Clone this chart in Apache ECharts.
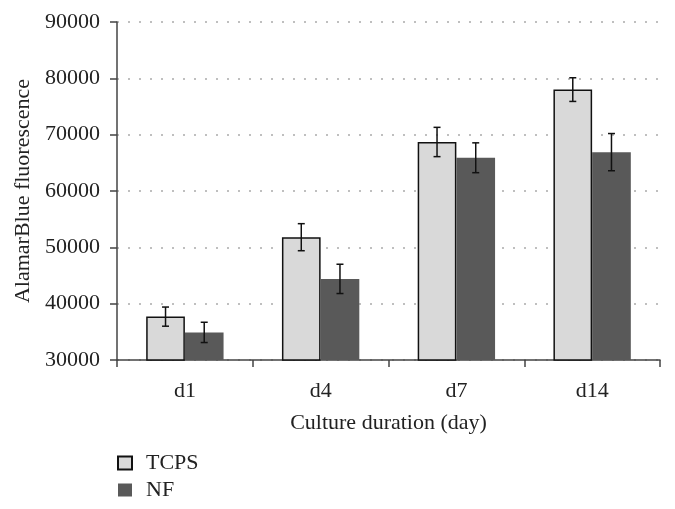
<!DOCTYPE html>
<html><head><meta charset="utf-8">
<script src="https://cdn.jsdelivr.net/npm/echarts@6/dist/echarts.min.js"></script>
<style>html,body{margin:0;padding:0;background:#fff}#c{width:675px;height:509px}</style>
</head><body><div id="c"></div>
<script>
var categories = ['d1', 'd4', 'd7', 'd14'];
var tcps = [37700, 51800, 68700, 78000];
var tcpsErr = [1700, 2400, 2600, 2100];
var nf = [34900, 44400, 65900, 66900];
var nfErr = [1800, 2600, 2650, 3300];
var seriesNames = ['TCPS', 'NF'];

var FONT = '"Liberation Serif", "DejaVu Serif", serif';
var FS = 22;
var BW = 0.285;

function errSeries(vals, errs, side) {
  return {
    type: 'custom',
    silent: true,
    z: 10,
    data: vals.map(function (v, i) { return [i, v - errs[i], v + errs[i]]; }),
    renderItem: function (params, api) {
      var cw = api.size([1, 0])[0];
      var off = side * cw * BW / 2;
      var lo = api.coord([api.value(0), api.value(1)]);
      var hi = api.coord([api.value(0), api.value(2)]);
      var x = lo[0] + off;
      var cap = 3.5;
      var st = { stroke: '#111', lineWidth: 1.5 };
      return { type: 'group', children: [
        { type: 'line', shape: { x1: x, y1: lo[1], x2: x, y2: hi[1] }, style: st },
        { type: 'line', shape: { x1: x - cap, y1: lo[1], x2: x + cap, y2: lo[1] }, style: st },
        { type: 'line', shape: { x1: x - cap, y1: hi[1], x2: x + cap, y2: hi[1] }, style: st }
      ]};
    },
    encode: { x: 0, y: [1, 2] }
  };
}

var chart = echarts.init(document.getElementById('c'));
chart.setOption({
  animation: false,
  textStyle: { fontFamily: FONT },
  grid: { left: 117, right: 15, top: 22, bottom: 149 },
  legend: {
    orient: 'vertical', left: 117, top: 452, padding: 0,
    itemWidth: 14, itemHeight: 13, itemGap: 5,
    icon: 'rect',
    textStyle: { fontFamily: FONT, fontSize: FS, color: '#222', padding: [0, 0, 0, 9] },
    data: seriesNames
  },
  xAxis: {
    type: 'category', data: categories,
    name: 'Culture duration (day)', nameLocation: 'middle', nameGap: 52,
    nameTextStyle: { fontFamily: FONT, fontSize: FS, color: '#222' },
    axisLine: { lineStyle: { color: '#444', width: 1.5 } },
    axisTick: { show: true, length: 7, lineStyle: { color: '#444', width: 1.5 } },
    axisLabel: { fontFamily: FONT, fontSize: FS, color: '#222', margin: 20 }
  },
  yAxis: {
    type: 'value', min: 30000, max: 90000, interval: 10000,
    name: 'AlamarBlue fluorescence', nameLocation: 'middle', nameGap: 82,
    nameTextStyle: { fontFamily: FONT, fontSize: FS, color: '#222' },
    axisLine: { show: true, lineStyle: { color: '#444', width: 1.5 } },
    axisTick: { show: true, length: 7, lineStyle: { color: '#444', width: 1.5 } },
    axisLabel: { fontFamily: FONT, fontSize: FS, color: '#222', margin: 17,
      formatter: function (v) { return String(v); } },
    splitLine: { show: true, lineStyle: { color: '#aaa', type: [2, 9], width: 1.5 } }
  },
  series: [
    { name: 'TCPS', type: 'bar', data: tcps, barWidth: (BW * 100) + '%', barGap: '0%',
      itemStyle: { color: '#d9d9d9', borderColor: '#111', borderWidth: 1.5 } },
    { name: 'NF', type: 'bar', data: nf, barWidth: (BW * 100) + '%', barGap: '0%',
      itemStyle: { color: '#595959' } },
    errSeries(tcps, tcpsErr, -1),
    errSeries(nf, nfErr, 1)
  ]
});
</script></body></html>
